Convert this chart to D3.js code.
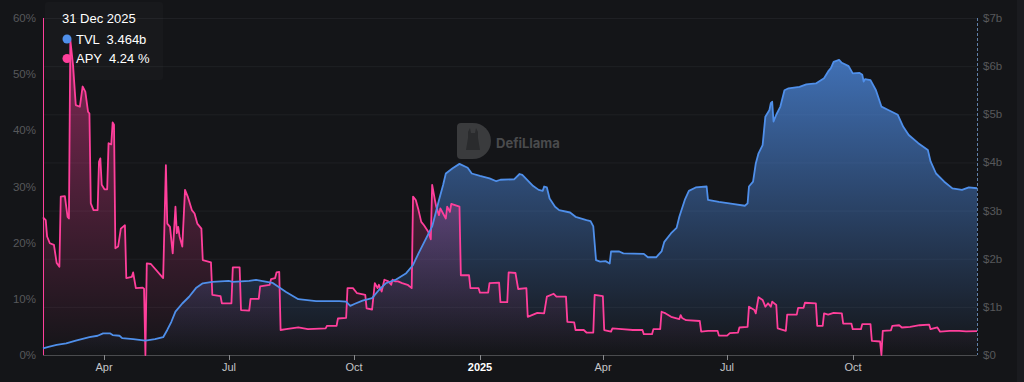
<!DOCTYPE html>
<html lang="en">
<head>
<meta charset="utf-8">
<title>TVL and APY</title>
<script src="https://d3js.org/d3.v7.min.js"></script>
<style>
  html, body { margin: 0; padding: 0; background: #141518; }
  svg { display: block; }
</style>
</head>
<body>
<script>
// TVL in billions of dollars
var tvlData = [
  ["2024-02-16",0.14],["2024-02-20",0.17],["2024-02-26",0.21],["2024-03-04",0.24],["2024-03-11",0.30],
  ["2024-03-21",0.37],["2024-03-27",0.40],["2024-03-31",0.45],["2024-04-05",0.45],["2024-04-07",0.415],
  ["2024-04-12",0.40],["2024-04-14",0.35],["2024-04-22",0.33],["2024-05-01",0.30],["2024-05-08",0.33],
  ["2024-05-14",0.37],["2024-05-17",0.52],["2024-05-20",0.69],["2024-05-23",0.90],["2024-05-28",1.07],
  ["2024-06-02",1.21],["2024-06-07",1.39],["2024-06-12",1.49],["2024-06-19",1.52],["2024-07-01",1.54],
  ["2024-07-04",1.52],["2024-07-16",1.54],["2024-07-21",1.56],["2024-08-02",1.50],["2024-08-12",1.31],
  ["2024-08-21",1.16],["2024-09-03",1.12],["2024-09-20",1.12],["2024-09-25",1.11],["2024-09-28",1.02],
  ["2024-10-01",1.06],["2024-10-07",1.13],["2024-10-14",1.18],["2024-10-19",1.35],["2024-10-24",1.49],
  ["2024-10-31",1.56],["2024-11-08",1.70],["2024-11-13",1.87],["2024-11-17",2.11],["2024-11-22",2.39],
  ["2024-11-27",2.67],["2024-12-02",3.22],["2024-12-05",3.53],["2024-12-07",3.77],["2024-12-12",3.88],
  ["2024-12-17",3.97],["2024-12-23",3.89],["2024-12-26",3.77],["2025-01-01",3.72],["2025-01-08",3.67],
  ["2025-01-13",3.61],["2025-01-16",3.64],["2025-01-26",3.65],["2025-01-30",3.76],["2025-02-01",3.74],
  ["2025-02-09",3.51],["2025-02-13",3.43],["2025-02-16",3.41],["2025-02-17",3.50],["2025-02-19",3.48],
  ["2025-02-21",3.25],["2025-02-25",3.08],["2025-02-28",3.01],["2025-03-08",2.96],["2025-03-12",2.87],
  ["2025-03-20",2.80],["2025-03-23",2.78],["2025-03-25",2.67],["2025-03-27",1.97],["2025-03-30",1.94],
  ["2025-04-03",1.95],["2025-04-06",1.90],["2025-04-07",2.15],["2025-04-13",2.15],["2025-04-16",2.11],
  ["2025-05-01",2.10],["2025-05-04",2.03],["2025-05-10",2.03],["2025-05-14",2.15],["2025-05-16",2.35],
  ["2025-05-21",2.53],["2025-05-25",2.64],["2025-05-27",2.87],["2025-05-31",3.22],["2025-06-03",3.41],
  ["2025-06-08",3.48],["2025-06-16",3.50],["2025-06-17",3.22],["2025-06-25",3.18],["2025-07-05",3.14],
  ["2025-07-14",3.10],["2025-07-16",3.15],["2025-07-17",3.50],["2025-07-20",3.60],["2025-07-22",3.98],
  ["2025-07-24",4.19],["2025-07-27",4.36],["2025-07-29",4.95],["2025-08-01",5.09],["2025-08-02",5.23],
  ["2025-08-03",5.26],["2025-08-04",4.85],["2025-08-06",4.99],["2025-08-09",5.16],["2025-08-12",5.50],
  ["2025-08-15",5.54],["2025-08-23",5.57],["2025-08-28",5.62],["2025-09-04",5.64],["2025-09-10",5.75],
  ["2025-09-13",5.89],["2025-09-15",5.96],["2025-09-17",6.09],["2025-09-21",6.13],["2025-09-23",6.07],
  ["2025-09-28",6.00],["2025-10-01",5.85],["2025-10-06",5.86],["2025-10-08",5.82],["2025-10-09",5.68],
  ["2025-10-10",5.73],["2025-10-14",5.71],["2025-10-18",5.50],["2025-10-22",5.16],["2025-10-27",5.09],
  ["2025-11-03",4.99],["2025-11-07",4.74],["2025-11-11",4.57],["2025-11-18",4.40],["2025-11-25",4.26],
  ["2025-11-27",4.02],["2025-12-01",3.77],["2025-12-07",3.60],["2025-12-13",3.46],["2025-12-20",3.43],
  ["2025-12-25",3.48],["2025-12-31",3.464]
];

// APY in percent
var apyData = [
  ["2024-02-16",24.5],["2024-02-18",24.0],["2024-02-19",21.1],["2024-02-21",19.9],["2024-02-24",19.6],
  ["2024-02-26",16.4],["2024-02-28",15.7],["2024-02-29",28.2],["2024-03-03",28.3],["2024-03-05",24.6],
  ["2024-03-06",24.3],["2024-03-07",56.1],["2024-03-09",51.6],["2024-03-11",44.5],["2024-03-14",44.2],
  ["2024-03-16",47.8],["2024-03-18",46.9],["2024-03-20",43.3],["2024-03-21",43.0],["2024-03-22",27.0],
  ["2024-03-24",25.8],["2024-03-27",25.8],["2024-03-28",34.4],["2024-03-29",35.0],["2024-03-30",30.3],
  ["2024-04-01",29.5],["2024-04-03",29.5],["2024-04-04",37.7],["2024-04-06",37.5],["2024-04-07",41.4],
  ["2024-04-08",41.0],["2024-04-09",19.0],["2024-04-11",19.3],["2024-04-13",22.5],["2024-04-16",23.1],
  ["2024-04-17",13.7],["2024-04-21",13.9],["2024-04-22",14.7],["2024-04-24",11.9],["2024-04-29",12.0],
  ["2024-04-30",11.8],["2024-05-01",0],["2024-05-02",16.3],["2024-05-05",16.2],["2024-05-14",13.7],
  ["2024-05-16",33.8],["2024-05-17",23.4],["2024-05-19",22.8],["2024-05-21",18.1],["2024-05-23",26.4],
  ["2024-05-24",21.7],["2024-05-25",22.8],["2024-05-26",21.1],["2024-05-28",19.3],["2024-05-30",29.4],
  ["2024-06-01",28.2],["2024-06-04",25.8],["2024-06-06",25.2],["2024-06-08",23.4],["2024-06-11",22.5],
  ["2024-06-12",16.9],["2024-06-18",16.5],["2024-06-19",10.7],["2024-06-25",10.5],["2024-06-26",9.2],
  ["2024-07-03",9.2],["2024-07-04",15.6],["2024-07-09",15.6],["2024-07-10",8.0],["2024-07-16",7.9],
  ["2024-07-17",10.0],["2024-07-23",10.0],["2024-07-24",12.2],["2024-07-31",12.5],["2024-08-01",13.5],
  ["2024-08-04",13.7],["2024-08-05",14.7],["2024-08-07",14.8],["2024-08-08",4.45],["2024-08-12",4.6],
  ["2024-08-21",4.9],["2024-08-28",4.6],["2024-09-10",4.75],["2024-09-11",5.2],["2024-09-18",5.2],
  ["2024-09-19",6.5],["2024-09-25",6.6],["2024-09-26",11.9],["2024-09-30",11.9],["2024-10-03",11.0],
  ["2024-10-09",10.7],["2024-10-10",8.3],["2024-10-14",8.1],["2024-10-16",12.8],["2024-10-18",11.9],
  ["2024-10-19",12.5],["2024-10-21",11.3],["2024-10-23",13.4],["2024-10-26",13.1],["2024-10-28",12.5],
  ["2024-10-29",13.4],["2024-10-31",13.1],["2024-11-02",13.1],["2024-11-05",12.8],["2024-11-09",12.5],
  ["2024-11-12",11.9],["2024-11-13",28.2],["2024-11-15",27.6],["2024-11-17",25.8],["2024-11-19",23.7],
  ["2024-11-21",23.1],["2024-11-24",22.0],["2024-11-26",20.6],["2024-11-27",30.3],["2024-11-29",27.6],
  ["2024-11-30",26.4],["2024-12-02",24.9],["2024-12-03",26.1],["2024-12-05",25.2],["2024-12-07",24.3],
  ["2024-12-08",26.4],["2024-12-10",25.5],["2024-12-11",26.9],["2024-12-17",26.4],["2024-12-18",14.2],
  ["2024-12-24",14.2],["2024-12-25",11.9],["2024-12-31",11.9],["2025-01-01",11.1],["2025-01-07",11.1],
  ["2025-01-08",12.8],["2025-01-15",12.9],["2025-01-16",9.4],["2025-01-21",9.4],["2025-01-22",14.7],
  ["2025-01-27",14.6],["2025-01-29",11.75],["2025-02-04",11.9],["2025-02-05",6.8],["2025-02-12",7.5],
  ["2025-02-17",7.4],["2025-02-19",10.4],["2025-02-24",10.9],["2025-02-26",10.4],["2025-03-05",10.4],
  ["2025-03-06",5.9],["2025-03-11",5.8],["2025-03-12",4.45],["2025-03-18",4.45],["2025-03-20",4.0],
  ["2025-03-25",4.0],["2025-03-26",10.7],["2025-04-01",10.5],["2025-04-02",4.45],["2025-04-07",4.15],
  ["2025-04-08",4.75],["2025-04-15",4.6],["2025-04-23",4.45],["2025-04-30",4.45],["2025-05-01",3.7],
  ["2025-05-07",3.7],["2025-05-08",4.6],["2025-05-13",4.6],["2025-05-14",7.7],["2025-05-17",7.4],
  ["2025-05-21",6.8],["2025-05-27",6.4],["2025-05-28",7.1],["2025-05-29",6.6],["2025-06-01",6.2],
  ["2025-06-11",6.05],["2025-06-12",4.15],["2025-06-17",4.3],["2025-06-24",4.3],["2025-06-25",3.45],
  ["2025-07-01",3.45],["2025-07-03",3.9],["2025-07-09",4.0],["2025-07-10",4.9],["2025-07-16",5.0],
  ["2025-07-17",8.6],["2025-07-21",8.0],["2025-07-22",7.4],["2025-07-24",10.3],["2025-07-27",9.8],
  ["2025-07-29",8.6],["2025-07-31",9.2],["2025-08-02",8.6],["2025-08-03",9.5],["2025-08-06",8.9],
  ["2025-08-07",4.75],["2025-08-13",4.3],["2025-08-14",7.2],["2025-08-21",7.2],["2025-08-22",8.4],
  ["2025-08-26",8.4],["2025-08-27",9.3],["2025-09-04",9.2],["2025-09-05",5.2],["2025-09-09",5.2],
  ["2025-09-10",7.4],["2025-09-13",7.2],["2025-09-17",7.5],["2025-09-23",7.4],["2025-09-24",5.6],
  ["2025-09-30",5.6],["2025-10-01",4.6],["2025-10-07",4.6],["2025-10-08",5.5],["2025-10-14",5.5],
  ["2025-10-15",2.5],["2025-10-21",2.4],["2025-10-22",0],["2025-10-23",4.3],["2025-10-29",4.4],
  ["2025-10-30",5.2],["2025-11-04",5.3],["2025-11-06",4.9],["2025-11-12",5.0],["2025-11-19",5.3],
  ["2025-11-26",5.4],["2025-11-27",4.6],["2025-12-02",4.9],["2025-12-04",4.15],["2025-12-11",4.3],
  ["2025-12-18",4.3],["2025-12-23",4.2],["2025-12-31",4.24]
];

var xDomain = ["2024-02-16", "2025-12-31"];
var apyTicks = [0, 10, 20, 30, 40, 50, 60];
var tvlTicks = [0, 1, 2, 3, 4, 5, 6, 7];
var legendDate = "31 Dec 2025";
var legendItems = [
  {name: "TVL", value: "3.464b", color: "#4f8fea"},
  {name: "APY", value: "4.24 %", color: "#ff3f9b"}
];

var width = 1024, height = 382;
var plotLeft = 43, plotRight = 977, plotTop = 18, plotBottom = 355;
var blue = "#4f8fea", pink = "#ff3f9b";

var parse = d3.timeParse("%Y-%m-%d");
var tvl = tvlData.map(function(d) { return {date: parse(d[0]), value: d[1]}; });
var apy = apyData.map(function(d) { return {date: parse(d[0]), value: d[1]}; });

var svg = d3.select("body").append("svg")
    .attr("width", width)
    .attr("height", height);

svg.append("rect").attr("width", width).attr("height", height).attr("fill", "#141518");
svg.append("rect").attr("x", 1017).attr("width", 7).attr("height", height).attr("fill", "#1a1b1f");

var x = d3.scaleTime()
    .domain(xDomain.map(parse))
    .range([plotLeft, plotRight]);

var yApy = d3.scaleLinear().domain([0, 60]).range([plotBottom, plotTop]);
var yTvl = d3.scaleLinear().domain([0, 7]).range([plotBottom, plotTop]);

// gradients
var defs = svg.append("defs");
var gBlue = defs.append("linearGradient").attr("id", "gBlue")
    .attr("gradientUnits", "userSpaceOnUse")
    .attr("x1", 0).attr("x2", 0).attr("y1", plotTop).attr("y2", plotBottom);
gBlue.append("stop").attr("offset", 0).attr("stop-color", blue).attr("stop-opacity", 0.85);
gBlue.append("stop").attr("offset", 1).attr("stop-color", blue).attr("stop-opacity", 0.0);

var gPink = defs.append("linearGradient").attr("id", "gPink")
    .attr("gradientUnits", "userSpaceOnUse")
    .attr("x1", 0).attr("x2", 0).attr("y1", plotTop).attr("y2", plotBottom);
gPink.append("stop").attr("offset", 0).attr("stop-color", pink).attr("stop-opacity", 0.5);
gPink.append("stop").attr("offset", 1).attr("stop-color", pink).attr("stop-opacity", 0.0);

// gridlines follow the TVL axis
svg.append("g").selectAll("line")
  .data(tvlTicks.slice(1))
  .enter().append("line")
    .attr("x1", plotLeft).attr("x2", plotRight)
    .attr("y1", function(d) { return yTvl(d) + 0.5; })
    .attr("y2", function(d) { return yTvl(d) + 0.5; })
    .attr("stroke", "#1f2024")
    .attr("stroke-width", 1);

// watermark
var wm = svg.append("g").attr("transform", "translate(457,123)");
wm.append("path")
    .attr("d", "M4,0 H16 A18,18 0 0 1 16,36 H4 A4,4 0 0 1 0,32 V4 A4,4 0 0 1 4,0 Z")
    .attr("fill", "#3a3b3d");
wm.append("path")
    .attr("d", "M11,9 L13,5 L14,10 L18,10 L19,5 L21,9 L21,15 L23,27 L9,27 L11,15 Z")
    .attr("fill", "#2a2b2d");
svg.append("text")
    .attr("x", 496).attr("y", 147.5)
    .attr("fill", "#4a4b4d")
    .attr("font-family", "Inter, 'Noto Sans', sans-serif")
    .attr("font-size", "13px")
    .attr("font-weight", "bold")
    .text("DefiLlama");

// tooltip box
svg.append("rect")
    .attr("x", 45).attr("y", 2).attr("width", 118).attr("height", 78)
    .attr("rx", 3)
    .attr("fill", "#ffffff").attr("fill-opacity", 0.018);

// areas
var tvlArea = d3.area()
    .x(function(d) { return x(d.date); })
    .y0(plotBottom)
    .y1(function(d) { return yTvl(d.value); });

var apyArea = d3.area()
    .x(function(d) { return x(d.date); })
    .y0(plotBottom)
    .y1(function(d) { return yApy(d.value); });

svg.append("path").datum(tvl).attr("d", tvlArea).attr("fill", "url(#gBlue)");
svg.append("path").datum(apy).attr("d", apyArea).attr("fill", "url(#gPink)");

// axis lines
svg.append("line")
    .attr("x1", plotLeft).attr("x2", plotRight)
    .attr("y1", plotBottom + 0.5).attr("y2", plotBottom + 0.5)
    .attr("stroke", "#4a4b4e");

svg.append("line")
    .attr("x1", plotLeft + 0.5).attr("x2", plotLeft + 0.5)
    .attr("y1", plotTop).attr("y2", plotBottom)
    .attr("stroke", pink).attr("stroke-width", 1);

svg.append("line")
    .attr("x1", plotRight + 0.5).attr("x2", plotRight + 0.5)
    .attr("y1", plotTop).attr("y2", plotBottom)
    .attr("stroke", "#5f7fa8").attr("stroke-width", 1)
    .attr("stroke-dasharray", "3,2");

// lines
var apyLine = d3.line()
    .x(function(d) { return x(d.date); })
    .y(function(d) { return yApy(d.value); });
var tvlLine = d3.line()
    .x(function(d) { return x(d.date); })
    .y(function(d) { return yTvl(d.value); });

svg.append("path").datum(apy).attr("d", apyLine)
    .attr("fill", "none").attr("stroke", pink).attr("stroke-width", 1.8)
    .attr("stroke-linejoin", "round");
svg.append("path").datum(tvl).attr("d", tvlLine)
    .attr("fill", "none").attr("stroke", blue).attr("stroke-width", 1.8)
    .attr("stroke-linejoin", "round");

// left axis labels
svg.append("g").selectAll("text")
  .data(apyTicks)
  .enter().append("text")
    .attr("x", 36)
    .attr("y", function(d) { return yApy(d); })
    .attr("dy", "0.35em")
    .attr("text-anchor", "end")
    .attr("fill", "#57585b")
    .attr("font-family", "'Liberation Sans', Arial, sans-serif")
    .attr("font-size", "11.5px")
    .text(function(d) { return d + "%"; });

// right axis labels
svg.append("g").selectAll("text")
  .data(tvlTicks)
  .enter().append("text")
    .attr("x", 983)
    .attr("y", function(d) { return yTvl(d); })
    .attr("dy", "0.35em")
    .attr("text-anchor", "start")
    .attr("fill", "#57585b")
    .attr("font-family", "'Liberation Sans', Arial, sans-serif")
    .attr("font-size", "11.5px")
    .text(function(d) { return d === 0 ? "$0" : "$" + d + "b"; });

// bottom axis
var monthFmt = d3.timeFormat("%b");
var xTicks = x.ticks(d3.timeMonth.every(3)).filter(function(d) { return x(d) > plotLeft + 5; });
var xg = svg.append("g").selectAll("g")
  .data(xTicks)
  .enter().append("g")
    .attr("transform", function(d) { return "translate(" + Math.round(x(d)) + ",0)"; });
xg.append("line")
    .attr("x1", 0.5).attr("x2", 0.5)
    .attr("y1", plotBottom).attr("y2", plotBottom + 5)
    .attr("stroke", "#8a8b8e");
xg.append("text")
    .attr("y", 371)
    .attr("text-anchor", "middle")
    .attr("fill", function(d) { return d.getMonth() === 0 ? "#ffffff" : "#c4c5c8"; })
    .attr("font-weight", function(d) { return d.getMonth() === 0 ? "bold" : "normal"; })
    .attr("font-family", "'Liberation Sans', Arial, sans-serif")
    .attr("font-size", "11px")
    .text(function(d) { return d.getMonth() === 0 ? d.getFullYear() : monthFmt(d); });

// legend
svg.append("text")
    .attr("x", 62).attr("y", 23)
    .attr("fill", "#ffffff")
    .attr("font-family", "'Liberation Sans', Arial, sans-serif")
    .attr("font-size", "13px")
    .text(legendDate);

var lg = svg.append("g").selectAll("g")
  .data(legendItems)
  .enter().append("g")
    .attr("transform", function(d, i) { return "translate(0," + (39 + i * 19.5) + ")"; });
lg.append("circle")
    .attr("cx", 67).attr("cy", 0).attr("r", 4.5)
    .attr("fill", function(d) { return d.color; });
lg.append("text")
    .attr("x", 76).attr("dy", "0.36em")
    .attr("fill", "#ffffff")
    .attr("font-family", "'Liberation Sans', Arial, sans-serif")
    .attr("font-size", "13px")
    .attr("xml:space", "preserve")
    .text(function(d) { return d.name + "  " + d.value; });
</script>
</body>
</html>
